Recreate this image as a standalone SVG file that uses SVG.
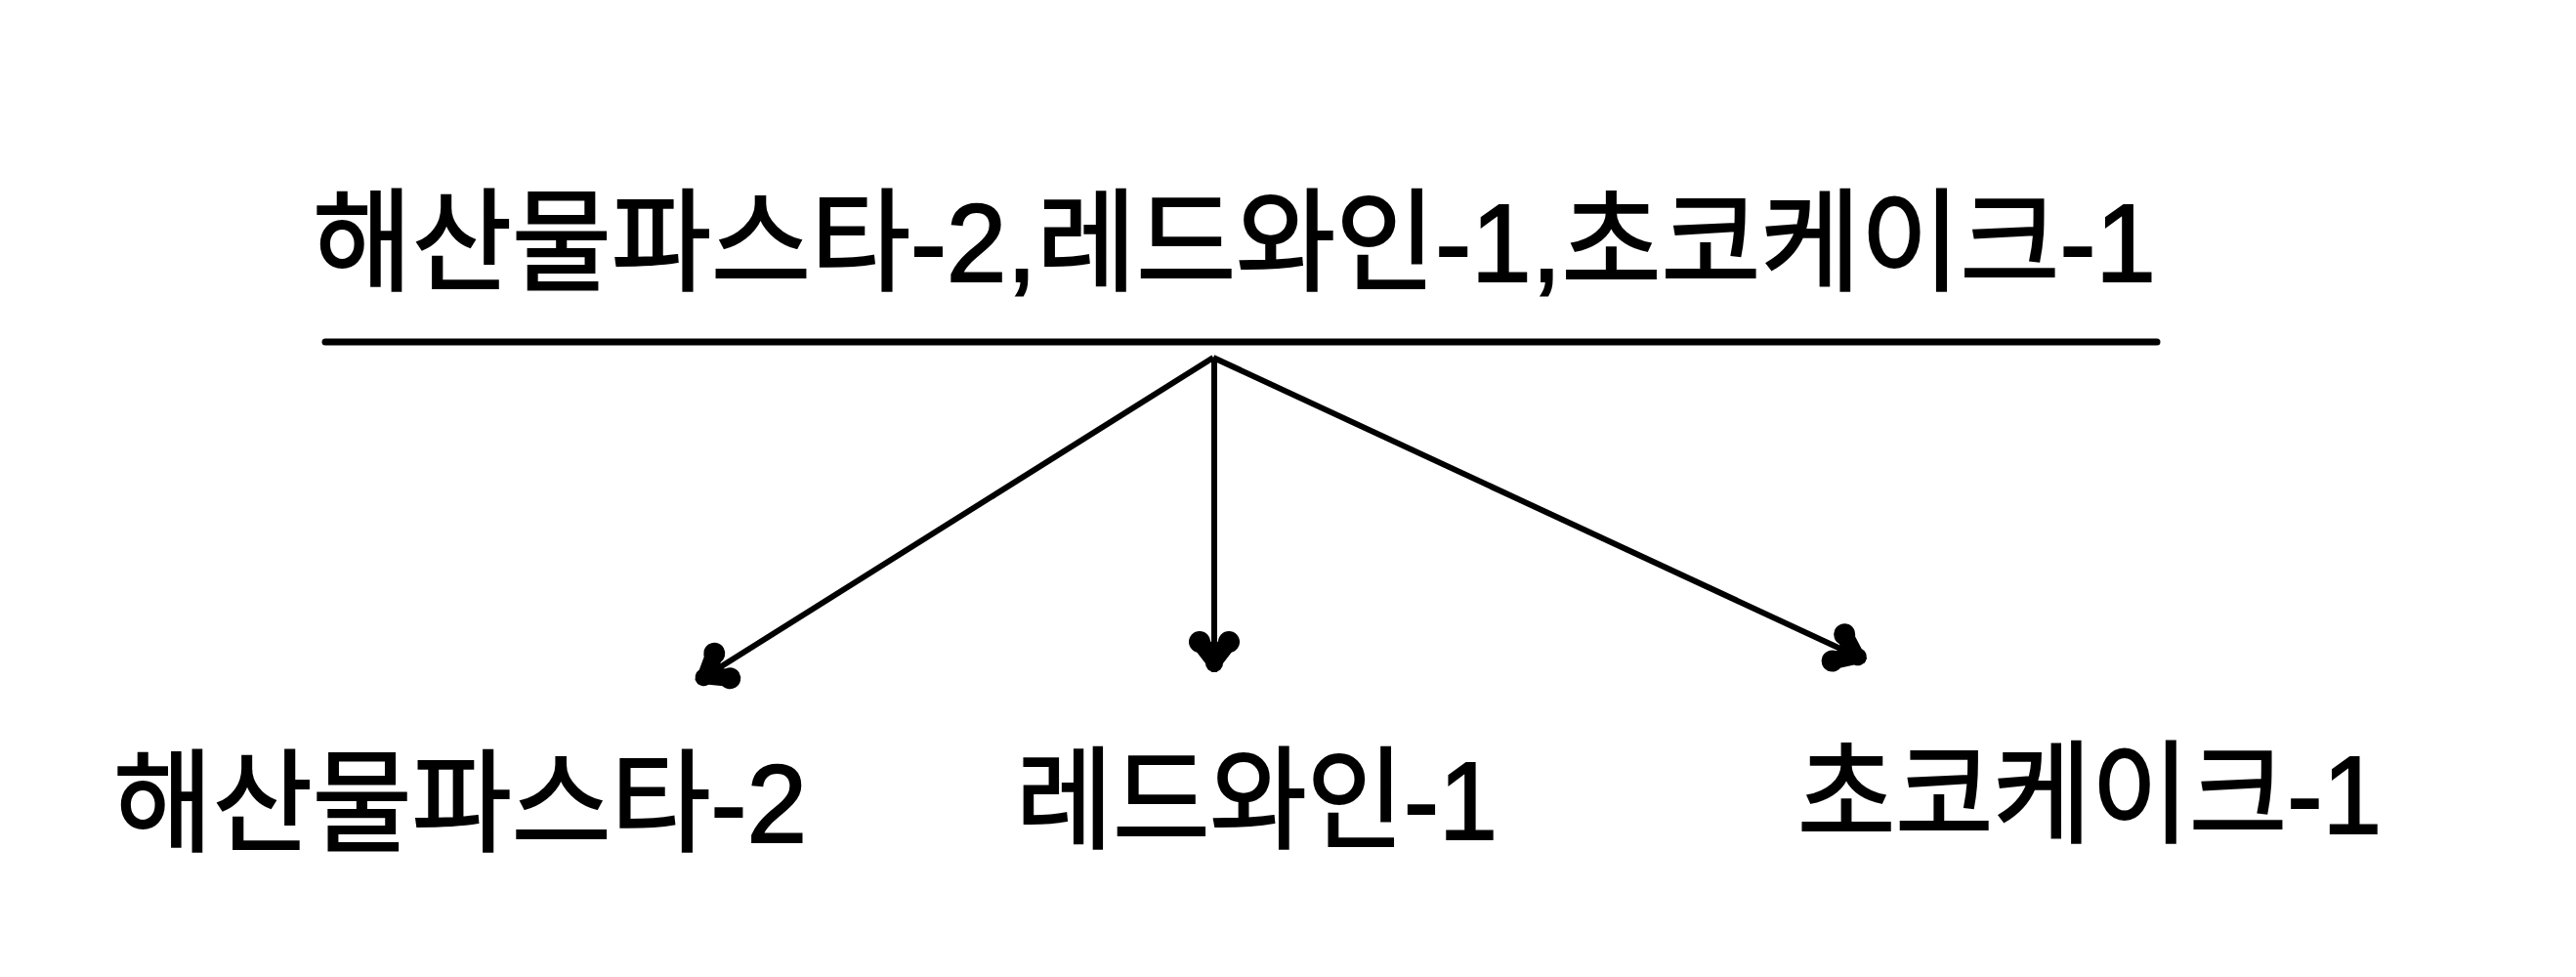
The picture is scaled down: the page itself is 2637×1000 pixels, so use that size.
<svg xmlns="http://www.w3.org/2000/svg" width="2637" height="1000" viewBox="0 0 2637 1000">
<style>
  .lbl { font-family: "Liberation Sans", "Noto Sans CJK KR", sans-serif; font-size: 114px; fill: #000; stroke: #000; stroke-width: 2; }
  .conn { stroke: #000; stroke-width: 6; fill: none; marker-end: url(#arrow); }
</style>
<defs>
  <marker id="arrow" markerUnits="userSpaceOnUse" markerWidth="80" markerHeight="80" viewBox="-60 -40 80 80" refX="0" refY="0" orient="auto">
    <g fill="#000">
      <circle cx="-9" cy="0" r="9"/>
      <circle cx="-31" cy="-15" r="11"/>
      <circle cx="-31" cy="15" r="11"/>
      <polygon points="-9,-9 -31,-26 -42,-15 -28,0 -42,15 -31,26 -9,9"/>
    </g>
  </marker>
</defs>
<rect width="2637" height="1000" fill="#fff"/>
<g id="root">
  <text class="lbl" x="320" y="288" textLength="1887" lengthAdjust="spacingAndGlyphs">해산물파스타-2,레드와인-1,초코케이크-1</text>
  <line x1="333" y1="350" x2="2208" y2="350" stroke="#000" stroke-width="7" stroke-linecap="round"/>
</g>
<g id="connectors">
  <line class="conn" x1="1242" y1="366" x2="713" y2="698"/>
  <line class="conn" x1="1243" y1="366" x2="1243" y2="688"/>
  <line class="conn" x1="1242" y1="366" x2="1910" y2="676"/>
</g>
<g id="node-pasta">
  <text class="lbl" x="116" y="862" textLength="710" lengthAdjust="spacingAndGlyphs">해산물파스타-2</text>
</g>
<g id="node-wine">
  <text class="lbl" x="1040" y="859" textLength="493" lengthAdjust="spacingAndGlyphs">레드와인-1</text>
</g>
<g id="node-cake">
  <text class="lbl" x="1840" y="853" textLength="598" lengthAdjust="spacingAndGlyphs">초코케이크-1</text>
</g>
</svg>
